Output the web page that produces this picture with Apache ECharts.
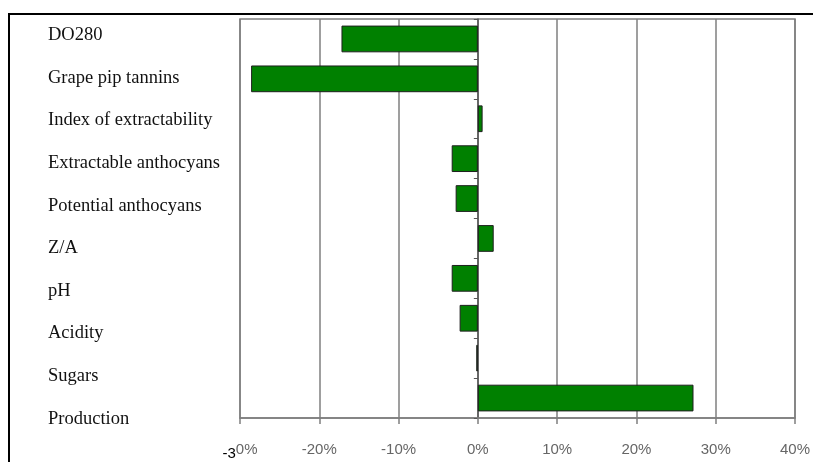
<!DOCTYPE html>
<html>
<head>
<meta charset="utf-8">
<script src="https://cdn.jsdelivr.net/npm/echarts@6/dist/echarts.min.js"></script>
<style>
html,body{margin:0;padding:0;background:#fff;}
#chart{width:813px;height:462px;}
</style>
</head>
<body>
<div id="chart"></div>
<script>
var categories = ['DO280','Grape pip tannins','Index of extractability','Extractable anthocyans','Potential anthocyans','Z/A','pH','Acidity','Sugars','Production'];
var values = [-17.2, -28.6, 0.6, -3.3, -2.8, 2.0, -3.3, -2.3, -0.2, 27.2];
var tickMin = -30, tickMax = 40, tickStep = 10;

var chart = echarts.init(document.getElementById('chart'), null, {renderer:'canvas'});
var gridColor = '#7f7f7f';
chart.setOption({
  animation: false,
  grid: [
    {left: 240, right: 16, top: 19, bottom: 44, show: true, borderColor: gridColor, borderWidth: 1.5, backgroundColor: 'transparent'},
    {left: 48, width: 180, top: 14, bottom: 22}
  ],
  xAxis: [
    {
      gridIndex: 0, type: 'value', min: tickMin, max: tickMax, interval: tickStep,
      axisLine: {show: true, lineStyle: {color: gridColor, width: 1.5}},
      axisTick: {show: true, length: 6, lineStyle: {color: gridColor, width: 1.5}},
      splitLine: {show: true, lineStyle: {color: gridColor, width: 1.5}},
      axisLabel: {
        margin: 24, fontFamily: 'Liberation Sans', fontSize: 15, color: '#666',
        formatter: function (v) {
          if (v === tickMin) return '{m|' + String(v).slice(0, 2) + '}{p|' + String(v).slice(2) + '%}';
          return v + '%';
        },
        rich: {
          m: {fontFamily: 'Liberation Sans', fontSize: 15, color: '#000', padding: [4, 0, 0, 0], verticalAlign: 'top'},
          p: {fontFamily: 'Liberation Sans', fontSize: 15, color: '#666', verticalAlign: 'top'}
        }
      }
    },
    {gridIndex: 1, type: 'value', show: false}
  ],
  yAxis: [
    {
      gridIndex: 0, type: 'category', data: categories, inverse: true,
      axisLine: {show: true, onZero: true, lineStyle: {color: '#555', width: 1.5}},
      axisTick: {show: true, length: 4, lineStyle: {color: '#555', width: 1}},
      axisLabel: {show: false},
      splitLine: {show: false}
    },
    {
      gridIndex: 1, type: 'category', data: categories, inverse: true,
      axisLine: {show: false}, axisTick: {show: false},
      axisLabel: {show: true, inside: true, margin: 0, fontFamily: 'Liberation Serif', fontSize: 18.5, color: '#111'}
    }
  ],
  series: [{
    type: 'bar', xAxisIndex: 0, yAxisIndex: 0, data: values,
    barCategoryGap: '33%',
    itemStyle: {color: '#008000', borderColor: '#1f1f1f', borderWidth: 1}
  }],
  graphic: [
    {type: 'line', shape: {x1: 8, y1: 14, x2: 813, y2: 14}, style: {stroke: '#000', lineWidth: 2}, z: 100},
    {type: 'line', shape: {x1: 9, y1: 13, x2: 9, y2: 462}, style: {stroke: '#000', lineWidth: 2}, z: 100}
  ]
});
</script>
</body>
</html>
